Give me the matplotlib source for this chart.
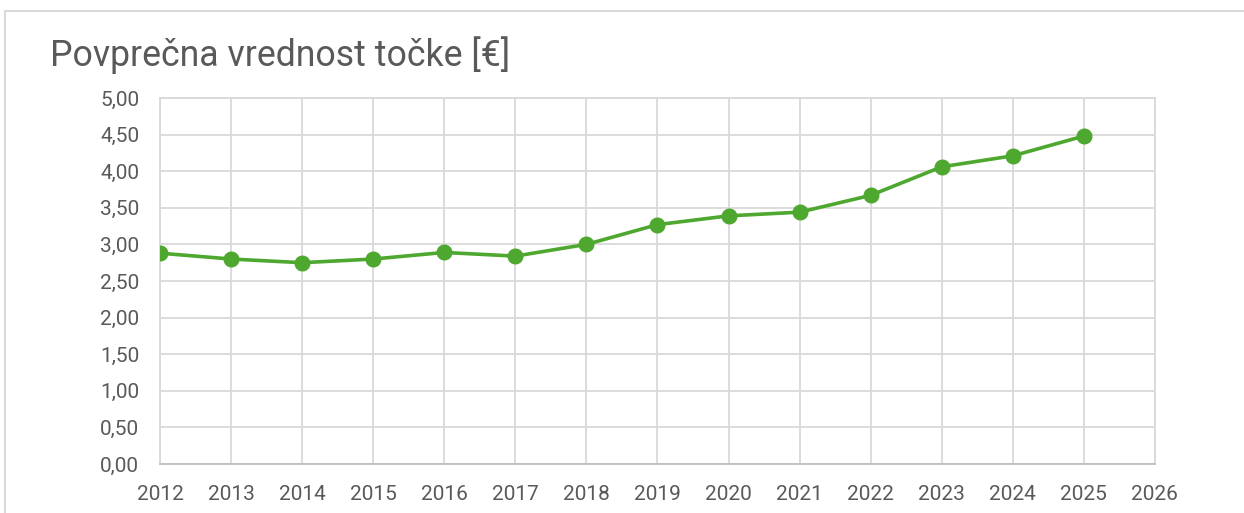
import matplotlib
matplotlib.use("Agg")
import matplotlib.pyplot as plt
from matplotlib.lines import Line2D
from matplotlib.ticker import FuncFormatter, MultipleLocator

years = [2012, 2013, 2014, 2015, 2016, 2017, 2018,
         2019, 2020, 2021, 2022, 2023, 2024, 2025]
values = [2.88, 2.80, 2.75, 2.80, 2.89, 2.84, 3.00,
          3.27, 3.39, 3.44, 3.67, 4.06, 4.21, 4.48]
title = "Povprečna vrednost točke [€]"

text_col = "#595959"
grid_col = "#D9D9D9"
green = "#4EA72E"

plt.rcParams["font.family"] = ["Roboto", "DejaVu Sans"]

fig = plt.figure(figsize=(12.44, 5.13), dpi=100)
ax = fig.add_axes([0.1286, 0.0955, 0.7998, 0.7135])

ax.plot(years, values, color=green, lw=2.6, marker="o", ms=10.5,
        solid_capstyle="round", zorder=3)

ax.set_xlim(2012, 2026)
ax.set_ylim(0, 5)
ax.xaxis.set_major_locator(MultipleLocator(1))
ax.yaxis.set_major_locator(MultipleLocator(0.5))
ax.yaxis.set_major_formatter(FuncFormatter(lambda v, _: f"{v:.2f}".replace(".", ",")))
ax.grid(True, color=grid_col, lw=1.3, zorder=0)
for side in ["left", "right", "top"]:
    ax.spines[side].set_color(grid_col)
    ax.spines[side].set_linewidth(1.3)
ax.spines["bottom"].set_color("#BFBFBF")
ax.spines["bottom"].set_linewidth(1.3)
ax.tick_params(length=0, labelsize=15, labelcolor=text_col)
ax.tick_params(axis="y", pad=15)
ax.tick_params(axis="x", pad=15)

fig.text(50 / 1244, 1 - 55 / 513, title, fontsize=25.7, color=text_col,
         ha="left", va="center")

# chart frame
fig.add_artist(Line2D([5 / 1244, 5 / 1244], [0, 1 - 11 / 513],
                      transform=fig.transFigure, color=grid_col, lw=1.5))
fig.add_artist(Line2D([5 / 1244, 1], [1 - 11 / 513, 1 - 11 / 513],
                      transform=fig.transFigure, color=grid_col, lw=1.5))

fig.savefig("out.png", dpi=100, facecolor="white")
